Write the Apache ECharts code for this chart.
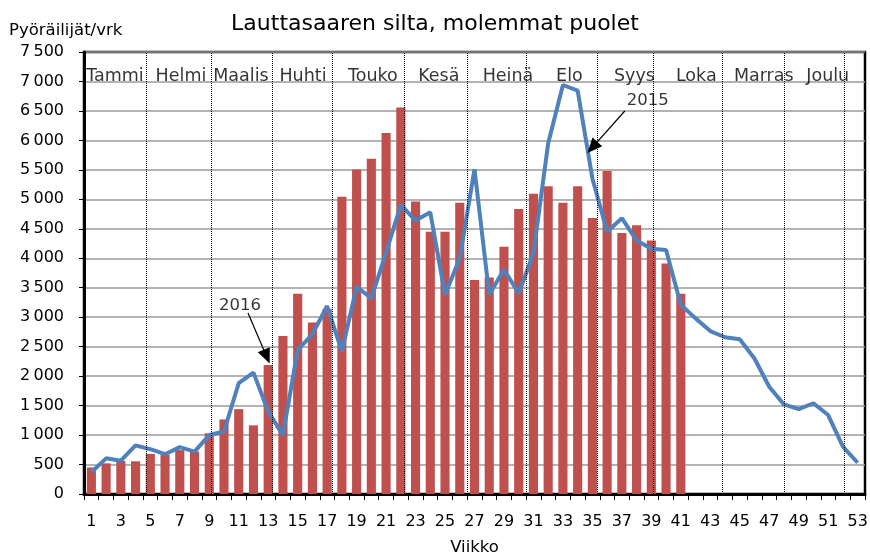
<!DOCTYPE html>
<html><head><meta charset="utf-8">
<script src="https://cdn.jsdelivr.net/npm/echarts@6/dist/echarts.min.js"></script>
</head><body style="margin:0;background:#fff">
<div id="c" style="width:870px;height:557px"></div>
<script>
const weeks = ['1','2','3','4','5','6','7','8','9','10','11','12','13','14','15','16','17','18','19','20','21','22','23','24','25','26','27','28','29','30','31','32','33','34','35','36','37','38','39','40','41','42','43','44','45','46','47','48','49','50','51','52','53'];
const bars2016 = [450,520,560,555,680,665,745,720,1030,1265,1440,1165,2190,2680,3400,2910,3145,5045,5505,5690,6125,6560,4965,4450,4450,4940,3630,3675,4195,4835,5095,5220,4940,5220,4685,5480,4430,4560,4300,3910,3400,null,null,null,null,null,null,null,null,null,null,null,null];
const line2015 = [370,605,565,825,760,675,795,720,1000,1060,1880,2060,1400,1000,2445,2710,3190,2415,3520,3320,4100,4905,4640,4780,3380,4000,5510,3380,3810,3405,4085,5950,6940,6845,5355,4450,4680,4300,4160,4140,3210,2980,2765,2660,2625,2300,1820,1520,1440,1540,1340,805,530];
const monthNames = ['Tammi','Helmi','Maalis','Huhti','Touko','Kesä','Heinä','Elo','Syys','Loka','Marras','Joulu'];
const monthLabelWeek = [2.6,7.08,11.15,15.36,20.1,24.58,29.27,33.44,37.85,42.05,46.63,50.97];
const monthBoundaryWeek = [4.71,9.12,13.25,17.33,22.21,26.48,30.49,35.3,39.1,43.78,47.99,52.06];

const FONT = 'DejaVu Sans';
const chart = echarts.init(document.getElementById('c'));
const fmt = v => v >= 1000 ? Math.floor(v/1000) + '\u2009' + String(v%1000).padStart(3,'0') : String(v);

chart.setOption({
  animation: false,
  backgroundColor: '#fff',
  textStyle: {fontFamily: FONT, color: '#000'},
  title: {text: 'Lauttasaaren silta, molemmat puolet', left: 'center', top: 8,
    textStyle: {fontFamily: FONT, fontSize: 22, fontWeight: 'normal', color: '#000'}},
  graphic: [{type: 'text', left: 9, top: 22, style: {text: 'Pyöräilijät/vrk', font: '16.5px "DejaVu Sans"', fill: '#000'}}],
  grid: {left: 84, right: 5, top: 52, bottom: 63, containLabel: false, outerBoundsMode: 'none',
    show: true, borderColor: '#000', borderWidth: 2.5},
  xAxis: [{
    type: 'category', data: weeks, boundaryGap: true,
    axisLine: {lineStyle: {color: '#000', width: 3}},
    axisTick: {show: true, interval: 0, length: 6, lineStyle: {color: '#000', width: 1}},
    axisLabel: {interval: 1, fontSize: 16, margin: 20, color: '#000', fontFamily: FONT},
    name: 'Viikko', nameLocation: 'middle', nameGap: 45,
    nameTextStyle: {fontSize: 16.5, color: '#000', fontFamily: FONT}
  }, {
    type: 'value', min: 0.5, max: 53.5, show: false
  }],
  yAxis: {
    type: 'value', min: 0, max: 7500, interval: 500,
    axisLine: {show: true, lineStyle: {color: '#000', width: 3}},
    axisTick: {show: true, length: 5, lineStyle: {color: '#000'}},
    axisLabel: {fontSize: 16, margin: 20, color: '#000', fontFamily: FONT, formatter: fmt},
    splitLine: {lineStyle: {color: '#9a9a9a', width: 1.5}}
  },
  series: [{
    name: '2016', type: 'bar', data: bars2016, barWidth: '62%',
    itemStyle: {color: '#C0504D'}, z: 2
  }, {
    name: '2015', type: 'line', data: line2015, showSymbol: false, symbol: 'none',
    lineStyle: {color: '#4F81BD', width: 4}, z: 3
  }, {
    type: 'scatter', xAxisIndex: 1, symbolSize: 0, z: 4,
    data: monthNames.map((n, i) => ({value: [monthLabelWeek[i], 7080], name: n})),
    label: {show: true, position: 'inside', formatter: p => p.name, fontSize: 17.5, color: '#000', fontFamily: FONT},
    markLine: {
      silent: true, symbol: 'none', animation: false,
      label: {show: false},
      lineStyle: {color: '#000', type: 'dotted', width: 1},
      data: monthBoundaryWeek.map(v => ({xAxis: v}))
    }
  }, {
    type: 'scatter', xAxisIndex: 1, symbolSize: 0, z: 5,
    data: [{value: [11.08, 3190], name: '2016'}, {value: [38.76, 6668], name: '2015'}],
    label: {show: true, position: 'inside', formatter: p => p.name, fontSize: 16.5, color: '#000', fontFamily: FONT},
    markLine: {
      silent: true, animation: false,
      symbol: ['none', 'triangle'], symbolSize: [13, 15],
      label: {show: false},
      lineStyle: {color: '#000', type: 'solid', width: 1.2},
      data: [
        [{coord: [11.63, 3071]}, {coord: [12.9, 2330]}],
        [{coord: [37.2, 6499]}, {coord: [35.0, 5880]}]
      ]
    }
  }]
});
</script>
</body></html>
